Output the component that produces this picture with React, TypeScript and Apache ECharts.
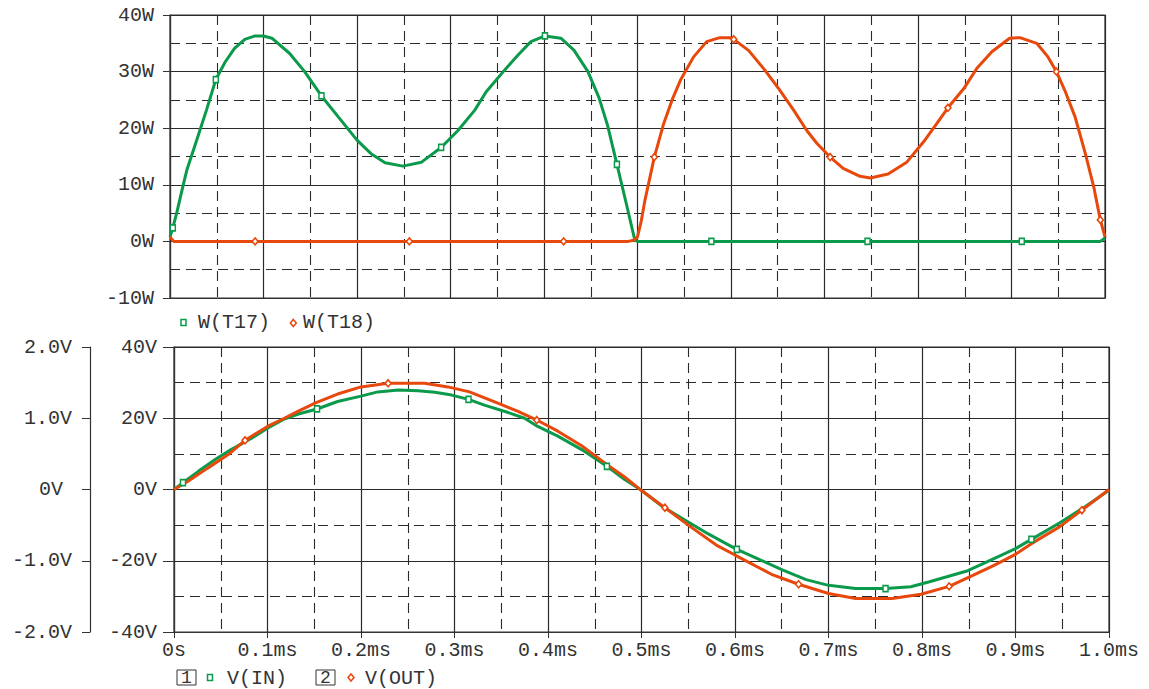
import React, { useEffect, useRef } from "react";
import * as echarts from "echarts";

// ---- Top plot: power (W) vs time (ms) ----
const wT17: [number, number][] = [
  [0, 0.8], [0.003, 2.4], [0.007, 4.9], [0.0136, 9.6], [0.018, 12.6], [0.0286, 17.9], [0.039, 23.2],
  [0.049, 28.6], [0.059, 31.7], [0.069, 34.1], [0.08, 35.7], [0.091, 36.3], [0.1, 36.3], [0.109, 35.9],
  [0.128, 33.2], [0.144, 30.0], [0.162, 25.7], [0.18, 22.0], [0.2, 17.9], [0.215, 15.5], [0.23, 13.9],
  [0.249, 13.3], [0.269, 14.0], [0.29, 16.6], [0.308, 19.6], [0.326, 23.2], [0.338, 26.4], [0.358, 30.3],
  [0.372, 32.9], [0.386, 35.3], [0.401, 36.3], [0.418, 35.9], [0.432, 33.8], [0.447, 30.0], [0.459, 25.3],
  [0.468, 20.5], [0.478, 13.6], [0.488, 6.7], [0.497, 0.3], [0.5, 0], [0.6, 0], [0.7, 0], [0.8, 0],
  [0.9, 0], [0.995, 0], [1.0, 0.6],
];
const wT18: [number, number][] = [
  [0, 0.8], [0.004, 0], [0.1, 0], [0.2, 0], [0.3, 0], [0.4, 0], [0.49, 0], [0.496, 0.2], [0.5, 0.8],
  [0.504, 3.6], [0.508, 7.3], [0.518, 14.9], [0.528, 20.8], [0.537, 25.0], [0.546, 28.5], [0.56, 32.6],
  [0.574, 35.3], [0.588, 36.0], [0.599, 36.0], [0.603, 35.7], [0.619, 33.7], [0.636, 30.3], [0.651, 27.0],
  [0.667, 23.2], [0.681, 19.6], [0.692, 17.3], [0.706, 14.9], [0.72, 12.9], [0.738, 11.5], [0.749, 11.2],
  [0.768, 11.9], [0.788, 14.0], [0.806, 17.6], [0.82, 20.8], [0.832, 23.6], [0.849, 27.0], [0.863, 30.6],
  [0.879, 33.5], [0.898, 35.9], [0.909, 36.0], [0.927, 35.0], [0.939, 32.6], [0.948, 30.0], [0.957, 26.7],
  [0.968, 22.0], [0.979, 15.5], [0.988, 9.6], [0.995, 3.8], [1.0, 0.8],
];
const wT17Marks: [number, number][] = [
  [0.003, 2.4], [0.049, 28.6], [0.162, 25.7], [0.29, 16.6], [0.401, 36.3], [0.478, 13.6],
  [0.579, 0], [0.746, 0], [0.911, 0],
];
const wT18Marks: [number, number][] = [
  [0.091, 0], [0.256, 0], [0.421, 0], [0.518, 14.9], [0.603, 35.7], [0.706, 14.9],
  [0.832, 23.6], [0.948, 30.0], [0.995, 3.8],
];

// ---- Bottom plot: voltage (V) vs time (ms) ----
const vIn: [number, number][] = [
  [0, 0], [0.0096, 1.9], [0.026, 5.1], [0.044, 8.4], [0.061, 11.2], [0.083, 14.4], [0.1, 17.2],
  [0.118, 19.8], [0.133, 21.2], [0.153, 22.6], [0.175, 24.7], [0.2, 26.2], [0.218, 27.4], [0.24, 27.9],
  [0.261, 27.7], [0.279, 27.3], [0.297, 26.5], [0.315, 25.3], [0.332, 23.7], [0.354, 21.9], [0.375, 20.0],
  [0.389, 17.7], [0.411, 14.9], [0.436, 11.2], [0.463, 6.5], [0.482, 2.8], [0.5, -0.2], [0.523, -4.9],
  [0.55, -9.1], [0.571, -12.4], [0.589, -15.0], [0.602, -16.8], [0.624, -19.4], [0.65, -22.5],
  [0.676, -25.3], [0.7, -26.9], [0.729, -27.8], [0.761, -27.8], [0.788, -27.3], [0.808, -25.9],
  [0.849, -22.8], [0.877, -19.4], [0.9, -16.6], [0.917, -14.0], [0.947, -9.4], [0.974, -4.9], [1.0, -0.2],
];
const vOut: [number, number][] = [
  [0, 0], [0.015, 2.3], [0.036, 6.0], [0.058, 9.8], [0.076, 13.8], [0.1, 17.7], [0.118, 20.0],
  [0.133, 22.0], [0.152, 24.4], [0.175, 26.8], [0.2, 28.8], [0.229, 29.8], [0.268, 29.8], [0.293, 28.8],
  [0.316, 27.4], [0.347, 24.2], [0.368, 21.9], [0.388, 19.5], [0.411, 16.3], [0.436, 12.3], [0.461, 7.4],
  [0.482, 3.5], [0.5, -0.3], [0.525, -5.1], [0.55, -10.0], [0.58, -15.6], [0.6, -18.4], [0.639, -23.8],
  [0.668, -26.6], [0.7, -29.2], [0.729, -30.6], [0.768, -30.6], [0.799, -29.4], [0.829, -27.2],
  [0.851, -24.5], [0.877, -21.3], [0.9, -18.2], [0.917, -15.2], [0.947, -10.5], [0.971, -5.8], [1.0, 0],
];
const vInMarks: [number, number][] = [
  [0.0096, 1.9], [0.153, 22.6], [0.315, 25.3], [0.463, 6.5], [0.602, -16.8], [0.761, -27.8], [0.917, -14.0],
];
const vOutMarks: [number, number][] = [
  [0.076, 13.8], [0.229, 29.8], [0.388, 19.5], [0.525, -5.1], [0.668, -26.6], [0.829, -27.2], [0.971, -5.8],
];

const topSeriesNames = ["W(T17)", "W(T18)"];
const bottomSeriesNames = ["V(IN)", "V(OUT)"];

const GREEN = "#0b9a4b";
const ORANGE = "#e8480c";
const INK = "#333333";
const FONT = "'Liberation Mono', 'DejaVu Sans Mono', monospace";

function timeLabel(v: number): string {
  if (Math.abs(v) < 1e-9) return "0s";
  return v.toFixed(1) + "ms";
}
function secLabel(v: number): string {
  if (Math.abs(v) < 1e-9) return "{z|0V}";
  return v.toFixed(1) + "V";
}

export default function App() {
  const ref = useRef<HTMLDivElement>(null);

  useEffect(() => {
    if (!ref.current) return;
    const chart = echarts.init(ref.current, undefined, { renderer: "svg" });

    const solid = { show: true, lineStyle: { color: "#2a2a2a", width: 1.2 } };
    const dashed = { show: true, lineStyle: { color: "#2a2a2a", width: 1.1, type: [10, 6] } };
    const labelStyle = { fontFamily: FONT, fontSize: 20, color: INK };

    const xBase = (gridIndex: number, showLabels: boolean) => ({
      type: "value",
      gridIndex,
      min: 0,
      max: 1,
      interval: 0.1,
      axisLine: { show: true, onZero: false, lineStyle: { color: INK, width: 1.2 } },
      axisTick: { show: showLabels, length: 6, lineStyle: { color: INK } },
      axisLabel: showLabels
        ? { show: true, formatter: timeLabel, margin: 8, ...labelStyle }
        : { show: false },
      splitLine: solid,
      minorTick: { show: false, splitNumber: 2 },
      minorSplitLine: dashed,
    });

    const lineSeries = (name: string, data: [number, number][], color: string, idx: number) => ({
      name,
      type: "line",
      xAxisIndex: idx,
      yAxisIndex: idx,
      data,
      showSymbol: false,
      symbol: "none",
      lineStyle: { color, width: 3 },
      itemStyle: { color },
      z: 3,
    });
    const markSeries = (
      name: string,
      data: [number, number][],
      color: string,
      idx: number,
      symbol: string,
      size: number | number[]
    ) => ({
      name,
      type: "scatter",
      xAxisIndex: idx,
      yAxisIndex: idx,
      data,
      symbol,
      symbolSize: size,
      itemStyle: { color: "#ffffff", borderColor: color, borderWidth: 1.6, opacity: 1 },
      z: 4,
    });

    const legendText = (x: number, y: number, text: string) => ({
      type: "text",
      x,
      y,
      style: { text, fontFamily: FONT, fontSize: 20, fill: INK, verticalAlign: "middle" },
    });
    const legendSquare = (cx: number, cy: number, color: string) => ({
      type: "rect",
      shape: { x: cx - 2.5, y: cy - 3, width: 5, height: 6 },
      style: { fill: "#fff", stroke: color, lineWidth: 1.5 },
    });
    const legendDiamond = (cx: number, cy: number, color: string) => ({
      type: "polygon",
      shape: { points: [[cx, cy - 3.5], [cx + 3, cy], [cx, cy + 3.5], [cx - 3, cy]] },
      style: { fill: "#fff", stroke: color, lineWidth: 1.5 },
    });
    const legendBox = (x: number, y: number, label: string) => ({
      type: "group",
      children: [
        { type: "rect", shape: { x, y, width: 19, height: 15 }, style: { fill: "none", stroke: INK, lineWidth: 1 } },
        {
          type: "text",
          x: x + 9.5,
          y: y + 8,
          style: { text: label, fontFamily: FONT, fontSize: 18, fill: INK, align: "center", verticalAlign: "middle" },
        },
      ],
    });

    chart.setOption({
      animation: false,
      backgroundColor: "#ffffff",
      grid: [
        { left: 170, top: 15, width: 935, height: 283, show: true, borderColor: INK, borderWidth: 1.2, backgroundColor: "transparent" },
        { left: 174, top: 347, width: 935, height: 285, show: true, borderColor: INK, borderWidth: 1.2, backgroundColor: "transparent" },
      ],
      xAxis: [xBase(0, false), xBase(1, true)],
      yAxis: [
        {
          type: "value",
          gridIndex: 0,
          min: -10,
          max: 40,
          interval: 10,
          axisLine: { show: true, onZero: false, lineStyle: { color: INK, width: 1.2 } },
          axisTick: { show: true, length: 7, lineStyle: { color: INK } },
          axisLabel: { formatter: "{value}W", margin: 16, ...labelStyle },
          splitLine: solid,
          minorTick: { show: false, splitNumber: 2 },
          minorSplitLine: dashed,
        },
        {
          type: "value",
          gridIndex: 1,
          min: -40,
          max: 40,
          interval: 20,
          axisLine: { show: true, onZero: false, lineStyle: { color: INK, width: 1.2 } },
          axisTick: { show: true, length: 11, lineStyle: { color: INK } },
          axisLabel: { formatter: "{value}V", margin: 17, ...labelStyle },
          splitLine: solid,
          minorTick: { show: false, splitNumber: 2 },
          minorSplitLine: dashed,
        },
        {
          type: "value",
          gridIndex: 1,
          position: "left",
          offset: 84,
          min: -2,
          max: 2,
          interval: 1,
          axisLine: { show: true, onZero: false, lineStyle: { color: INK, width: 1.2 } },
          axisTick: { show: true, length: 8, lineStyle: { color: INK } },
          axisLabel: {
            formatter: secLabel,
            margin: 18,
            ...labelStyle,
            rich: { z: { fontFamily: FONT, fontSize: 20, color: INK, padding: [0, 9, 0, 0] } },
          },
          splitLine: { show: false },
        },
      ],
      series: [
        lineSeries(topSeriesNames[0], wT17, GREEN, 0),
        lineSeries(topSeriesNames[1], wT18, ORANGE, 0),
        markSeries(topSeriesNames[0], wT17Marks, GREEN, 0, "rect", [5, 6]),
        markSeries(topSeriesNames[1], wT18Marks, ORANGE, 0, "diamond", [6, 7]),
        lineSeries(bottomSeriesNames[0], vIn, GREEN, 1),
        lineSeries(bottomSeriesNames[1], vOut, ORANGE, 1),
        markSeries(bottomSeriesNames[0], vInMarks, GREEN, 1, "rect", [5, 6]),
        markSeries(bottomSeriesNames[1], vOutMarks, ORANGE, 1, "diamond", [6, 7]),
      ],
      graphic: [
        legendSquare(183.5, 322.5, GREEN),
        legendText(198, 322, topSeriesNames[0]),
        legendDiamond(293.3, 323, ORANGE),
        legendText(303, 322, topSeriesNames[1]),
        legendBox(177, 670, "1"),
        legendSquare(210, 677.5, GREEN),
        legendText(227, 678, bottomSeriesNames[0]),
        legendBox(316, 670, "2"),
        legendDiamond(351, 677.5, ORANGE),
        legendText(365, 678, bottomSeriesNames[1]),
      ],
    });

    return () => chart.dispose();
  }, []);

  return (
    <div
      ref={ref}
      style={{ position: "absolute", left: 0, top: 0, width: 1149, height: 689, background: "#ffffff" }}
    />
  );
}
